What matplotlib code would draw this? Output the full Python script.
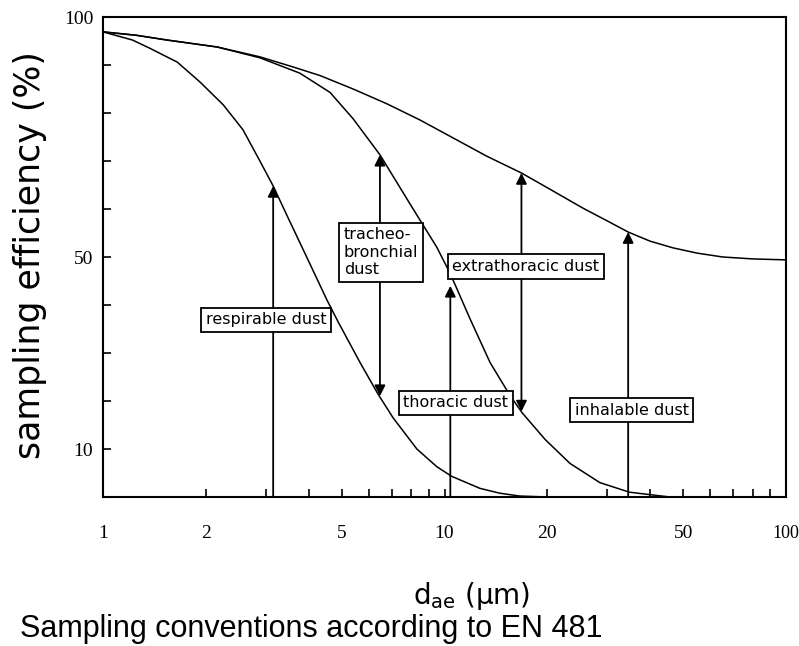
import numpy as np
import matplotlib
matplotlib.use("Agg")
import matplotlib.pyplot as plt
from matplotlib.ticker import FixedLocator, NullFormatter

# curves: aerodynamic diameter (um) vs sampling efficiency (%)
inhal_d = [1.0, 1.25, 1.54, 2.16, 2.88, 3.6, 4.32, 5.4, 6.79, 8.5, 10.6, 13.3, 16.8,
           20.5, 25.4, 30, 34.5, 40, 46.7, 55, 65.3, 80, 100]
inhal_v = [96.9, 96.2, 95.2, 93.75, 91.7, 89.6, 87.8, 85.0, 81.9, 78.5, 74.8, 71.0, 67.5,
           64.0, 60.2, 57.5, 55.2, 53.3, 51.9, 50.8, 50.0, 49.6, 49.4]

thor_d = [1.0, 1.25, 1.54, 2.16, 2.88, 3.77, 4.62, 5.4, 6.47, 8.03, 9.5, 10.4, 11.9,
          13.6, 15.6, 16.9, 19.7, 23.3, 28.5, 34.8, 45.7]
thor_v = [96.9, 96.2, 95.2, 93.75, 91.5, 88.3, 84.3, 78.8, 71.3, 60.4, 52.0, 46.5, 37.0,
          28.0, 21.0, 17.5, 12.0, 7.0, 3.0, 1.0, 0.0]

resp_d = [1.0, 1.22, 1.37, 1.65, 1.92, 2.25, 2.57, 2.88, 3.15, 3.46, 3.9, 4.53, 4.88,
          5.66, 6.38, 7.07, 8.3, 9.5, 10.5, 12.7, 14.5, 16.6, 20]
resp_v = [96.9, 95.2, 93.5, 90.6, 86.5, 81.7, 76.5, 70.0, 64.8, 58.6, 50.8, 41.0, 36.5,
          28.0, 21.5, 16.5, 10.0, 6.3, 4.3, 1.8, 0.8, 0.2, 0.0]

# arrows: diameter, start value, end value
arrow_labels = ["respirable dust", "tracheo-\nbronchial\ndust", "thoracic dust",
                "extrathoracic dust", "inhalable dust"]
arrow_d = [3.15, 6.47, 10.4, 16.8, 34.5]
arrow_lo = [0.0, 21.0, 0.0, 17.8, 0.0]
arrow_hi = [64.8, 71.3, 44.0, 67.5, 55.2]
arrow_both = [False, True, False, True, False]

# label box centres (diameter, value)
box_d = [3.0, 6.52, 10.8, 17.3, 35.3]
box_v = [36.9, 51.0, 19.6, 48.0, 18.1]

xticks = [1, 2, 5, 10, 20, 50, 100]
xminor = [3, 4, 6, 7, 8, 9, 30, 40, 60, 70, 80, 90]
yticks = [10, 50, 100]
yminor = [20, 30, 40, 60, 70, 80, 90]

W, H = 799, 646
fig = plt.figure(figsize=(W / 100, H / 100), dpi=100)
ax = fig.add_axes([103 / W, 1 - 497 / H, (786 - 103) / W, (497 - 17) / H])

for xs, ys in [(inhal_d, inhal_v), (thor_d, thor_v), (resp_d, resp_v)]:
    ax.plot(xs, ys, color="black", lw=1.1, zorder=2, solid_joinstyle="round")

for d, lo, hi, both in zip(arrow_d, arrow_lo, arrow_hi, arrow_both):
    style = "<|-|>" if both else "-|>"
    ax.annotate("", xy=(d, hi), xytext=(d, lo),
                arrowprops=dict(arrowstyle=style, color="black", lw=1.3,
                                mutation_scale=16, shrinkA=0, shrinkB=0),
                zorder=3)

for lab, d, v in zip(arrow_labels, box_d, box_v):
    ax.text(d, v, lab, ha="center", va="center", fontsize=11.5,
            family="DejaVu Sans", multialignment="left", zorder=5,
            bbox=dict(boxstyle="square,pad=0.3", fc="white", ec="black", lw=1.3))

ax.set_xscale("log")
ax.set_xlim(1, 100)
ax.set_ylim(0, 100)

ax.xaxis.set_major_locator(FixedLocator(xticks))
ax.xaxis.set_minor_locator(FixedLocator(xminor))
ax.xaxis.set_minor_formatter(NullFormatter())
ax.set_xticklabels([str(t) for t in xticks])
ax.yaxis.set_major_locator(FixedLocator(yticks))
ax.yaxis.set_minor_locator(FixedLocator(yminor))
ax.set_yticklabels([str(t) for t in yticks])

ax.tick_params(which="both", direction="in", length=6, width=1.2,
               top=False, right=False)
ax.tick_params(axis="x", which="major", pad=20)
ax.tick_params(axis="y", which="major", pad=7)
for lab in ax.get_xticklabels() + ax.get_yticklabels():
    lab.set_family("Liberation Serif")
    lab.set_fontsize(14)
ax.get_xticklabels()[-1].set_fontsize(13)

for sp in ax.spines.values():
    sp.set_linewidth(1.5)

fig.text(30 / W, 1 - 255 / H, "sampling efficiency (%)", rotation=90,
         ha="center", va="center", fontsize=25, family="DejaVu Sans")
fig.text(472 / W, 1 - 596 / H, "d$_\\mathregular{ae}$ (µm)",
         ha="center", va="center", fontsize=20, family="DejaVu Sans")
fig.text(20 / W, 1 - 629 / H, "Sampling conventions according to EN 481",
         ha="left", va="center", fontsize=22, family="Liberation Sans")

fig.savefig("out.png", dpi=100)
